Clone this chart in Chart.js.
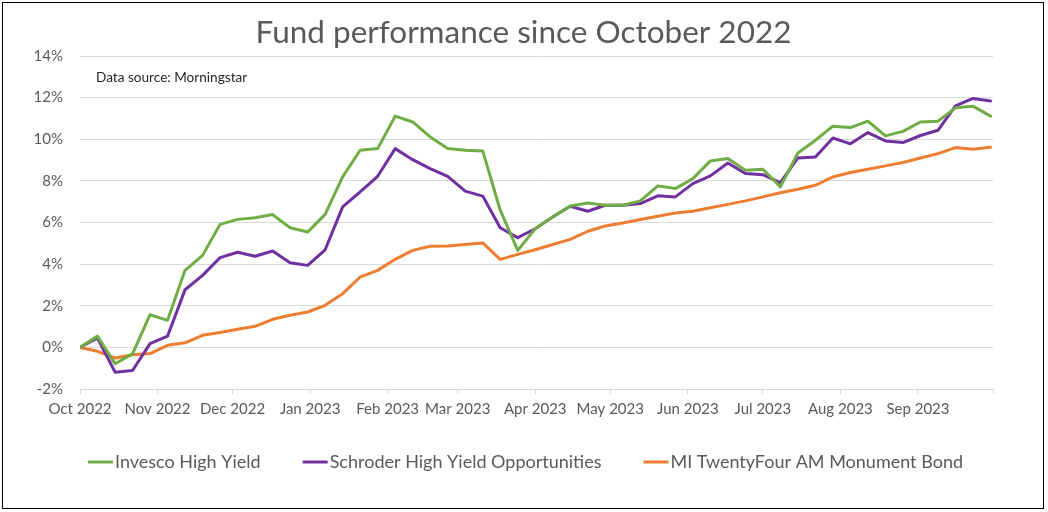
<!DOCTYPE html>
<html>
<head>
<meta charset="utf-8">
<script src="https://cdn.jsdelivr.net/npm/chart.js@4.4.0/dist/chart.umd.min.js"></script>
<style>
  html, body { margin: 0; padding: 0; background: #fff; }
  #wrap { position: relative; width: 1048px; height: 512px; }
  #frame { position: absolute; left: 2px; top: 2px; width: 1042px; height: 507px; box-sizing: border-box; border: 1px solid #000; pointer-events: none; }
  canvas { position: absolute; left: 0; top: 0; }
</style>
</head>
<body>
<div id="wrap">
  <canvas id="c" width="1048" height="512"></canvas>
  <div id="frame"></div>
</div>
<script>
// ---- Data ----
const startDate = '2022-10-01';
const endDate = '2023-10-01';
const weekDates = [
  '2022-10-01','2022-10-08','2022-10-15','2022-10-22','2022-10-29',
  '2022-11-05','2022-11-12','2022-11-19','2022-11-26',
  '2022-12-03','2022-12-10','2022-12-17','2022-12-24','2022-12-31',
  '2023-01-07','2023-01-14','2023-01-21','2023-01-28',
  '2023-02-04','2023-02-11','2023-02-18','2023-02-25',
  '2023-03-04','2023-03-11','2023-03-18','2023-03-25',
  '2023-04-01','2023-04-08','2023-04-15','2023-04-22','2023-04-29',
  '2023-05-06','2023-05-13','2023-05-20','2023-05-27',
  '2023-06-03','2023-06-10','2023-06-17','2023-06-24',
  '2023-07-01','2023-07-08','2023-07-15','2023-07-22','2023-07-29',
  '2023-08-05','2023-08-12','2023-08-19','2023-08-26',
  '2023-09-02','2023-09-09','2023-09-16','2023-09-23','2023-09-30'
];
const invesco = [
  0.00, 0.54, -0.79, -0.31, 1.57, 1.30, 3.70, 4.42, 5.91, 6.15,
  6.23, 6.38, 5.75, 5.54, 6.39, 8.19, 9.47, 9.55, 11.11, 10.83,
  10.11, 9.55, 9.47, 9.44, 6.59, 4.66, 5.70, 6.27, 6.79, 6.94,
  6.83, 6.83, 7.04, 7.76, 7.63, 8.11, 8.96, 9.07, 8.51, 8.56,
  7.71, 9.34, 9.95, 10.63, 10.56, 10.87, 10.16, 10.38, 10.83, 10.87,
  11.51, 11.59, 11.11
];
const schroder = [
  0.00, 0.45, -1.19, -1.11, 0.18, 0.54, 2.77, 3.46, 4.31, 4.57,
  4.38, 4.63, 4.07, 3.94, 4.69, 6.75, 7.47, 8.22, 9.55, 9.02,
  8.59, 8.22, 7.51, 7.27, 5.75, 5.27, 5.70, 6.27, 6.78, 6.54,
  6.83, 6.83, 6.91, 7.28, 7.23, 7.87, 8.24, 8.86, 8.35, 8.30,
  7.92, 9.10, 9.15, 10.06, 9.78, 10.32, 9.92, 9.84, 10.18, 10.43,
  11.60, 11.96, 11.84
];
const twentyFour = [
  0.00, -0.19, -0.51, -0.35, -0.30, 0.10, 0.22, 0.58, 0.71, 0.87,
  1.01, 1.35, 1.54, 1.70, 2.02, 2.58, 3.38, 3.70, 4.23, 4.66,
  4.86, 4.87, 4.94, 5.02, 4.23, 4.47, 4.69, 4.94, 5.19, 5.58,
  5.83, 5.98, 6.14, 6.30, 6.46, 6.54, 6.71, 6.87, 7.04, 7.23,
  7.43, 7.60, 7.79, 8.19, 8.40, 8.56, 8.72, 8.88, 9.10, 9.31,
  9.60, 9.52, 9.62
];
const seriesNames = ['Invesco High Yield', 'Schroder High Yield Opportunities', 'MI TwentyFour AM Monument Bond'];
const seriesColors = ['#70ad47', '#7030a0', '#ed7d31'];
const monthStarts = ['2022-10-01','2022-11-01','2022-12-01','2023-01-01','2023-02-01','2023-03-01','2023-04-01','2023-05-01','2023-06-01','2023-07-01','2023-08-01','2023-09-01','2023-10-01'];
const monthLabels = ['Oct 2022','Nov 2022','Dec 2022','Jan 2023','Feb 2023','Mar 2023','Apr 2023','May 2023','Jun 2023','Jul 2023','Aug 2023','Sep 2023',''];
const yTicks = [-2, 0, 2, 4, 6, 8, 10, 12, 14];
const titleText = 'Fund performance since October 2022';
const sourceText = 'Data source: Morningstar';

// ---- helpers ----
const DAY = 86400000;
const dayOf = d => (Date.parse(d + 'T00:00:00Z') - Date.parse(startDate + 'T00:00:00Z')) / DAY;
const xs = weekDates.map(dayOf);
const monthDays = monthStarts.map(dayOf);
const FONT = 'Lato, "Open Sans", sans-serif';
const GRID = '#d9d9d9';
const TXT = '#595959';

const mk = (vals, i) => ({
  label: seriesNames[i],
  data: vals.map((v, k) => ({ x: xs[k], y: v })),
  borderColor: seriesColors[i],
  backgroundColor: seriesColors[i],
  borderWidth: 3,
  pointRadius: 0,
  tension: 0,
  fill: false,
  borderJoinStyle: 'round',
  borderCapStyle: 'round'
});

const extras = {
  id: 'extras',
  afterDraw(chart) {
    const ctx = chart.ctx;
    const ca = chart.chartArea;
    ctx.save();
    // title
    ctx.font = '31.5px ' + FONT;
    ctx.fillStyle = TXT;
    ctx.textAlign = 'center';
    ctx.textBaseline = 'middle';
    ctx.fillText(titleText, 523.5, 33);
    // data source note
    ctx.font = '13.6px ' + FONT;
    ctx.fillStyle = '#262626';
    ctx.textAlign = 'left';
    ctx.fillText(sourceText, ca.left + 16, 78);
    // legend
    ctx.font = '18px ' + FONT;
    const lineW = 25, gap = 2, spacing = 42;
    const widths = chart.data.datasets.map(ds => ctx.measureText(ds.label).width);
    let total = widths.reduce((a, w) => a + lineW + gap + w, 0) + spacing * (widths.length - 1);
    let x = 525.5 - total / 2;
    const y = 462;
    chart.data.datasets.forEach((ds, i) => {
      ctx.strokeStyle = ds.borderColor;
      ctx.lineWidth = 3;
      ctx.beginPath();
      ctx.moveTo(x, y);
      ctx.lineTo(x + lineW, y);
      ctx.stroke();
      ctx.fillStyle = TXT;
      ctx.fillText(ds.label, x + lineW + gap, y);
      x += lineW + gap + widths[i] + spacing;
    });
    ctx.restore();
  }
};

new Chart(document.getElementById('c'), {
  type: 'line',
  data: { datasets: [mk(invesco, 0), mk(schroder, 1), mk(twentyFour, 2)] },
  options: {
    responsive: false,
    animation: false,
    events: [],
    layout: { padding: { left: 0, right: 55, top: 56, bottom: 83 } },
    plugins: {
      legend: { display: false },
      tooltip: { enabled: false },
      title: { display: false }
    },
    scales: {
      x: {
        type: 'linear',
        min: dayOf(startDate),
        max: dayOf(endDate),
        afterBuildTicks: s => { s.ticks = monthDays.map(v => ({ value: v })); },
        afterFit: s => { s.height = 40; },
        grid: { drawOnChartArea: false, drawTicks: true, tickLength: 5, color: GRID, lineWidth: 1 },
        border: { display: true, color: GRID, width: 1 },
        ticks: {
          autoSkip: false, maxRotation: 0, minRotation: 0, padding: 6,
          color: TXT, font: { family: FONT, size: 15 },
          callback: (v, i) => monthLabels[i]
        }
      },
      y: {
        min: -2, max: 14,
        afterBuildTicks: s => { s.ticks = yTicks.map(v => ({ value: v })); },
        afterFit: s => { s.width = 80; },
        grid: { color: GRID, lineWidth: 1, drawTicks: false },
        border: { display: false },
        ticks: {
          padding: 17, color: TXT, font: { family: FONT, size: 15 },
          callback: v => v + '%'
        }
      }
    }
  },
  plugins: [extras]
});
</script>
</body>
</html>
